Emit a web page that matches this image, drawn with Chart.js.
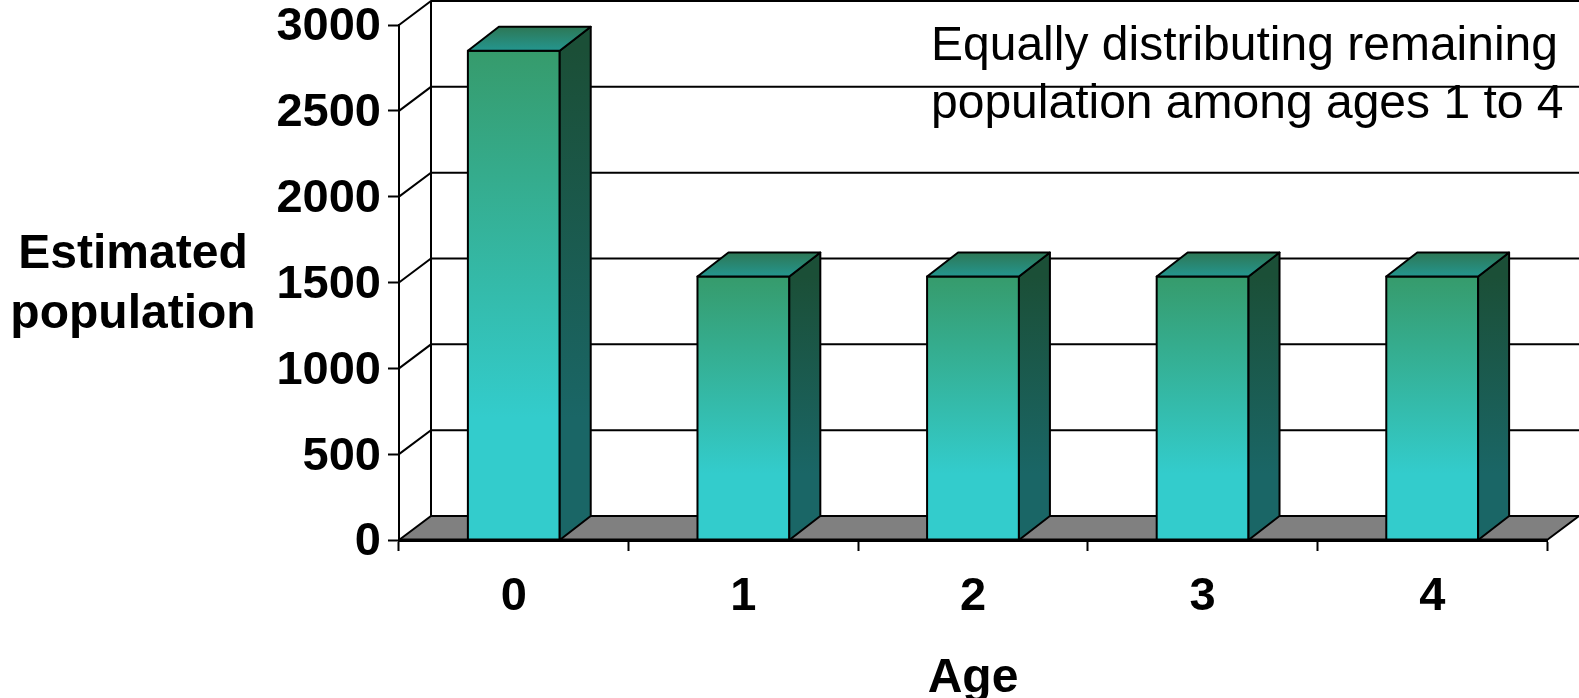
<!DOCTYPE html>
<html>
<head>
<meta charset="utf-8">
<title>Estimated population by age</title>
<script src="https://cdn.jsdelivr.net/npm/chart.js@4"></script>
<style>
  html, body { margin: 0; padding: 0; background: #fff; overflow: hidden; }
  canvas { display: block; }
</style>
</head>
<body>
<canvas id="chart" width="1579" height="698"></canvas>
<script>
const ages = ["0", "1", "2", "3", "4"];
const population = [2850, 1535, 1535, 1535, 1535];
const yTicks = [0, 500, 1000, 1500, 2000, 2500, 3000];
const yTitleLines = ["Estimated", "population"];
const noteLines = ["Equally distributing remaining", "population among ages 1 to 4"];

const fontName = '"Liberation Sans", Arial, sans-serif';
const depthX = 32;
const depthY = 24;

// vertical gradient for one bar, from its top down to the floor
function barGradient(ctx, value, y, stops) {
  const top = y.getPixelForValue(value);
  const g = ctx.createLinearGradient(0, top, 0, y.getPixelForValue(0));
  g.addColorStop(0, stops[0]);
  g.addColorStop(0.75, stops[1]);
  g.addColorStop(1, stops[1]);
  return g;
}

const wallPlugin = {
  id: "wall",
  beforeDraw(chart) {
    // the y labels sit a little low in the original
    chart.scales.y.getLabelItems(chart.chartArea).forEach((item) => {
      item.options.translation[1] += 2.5;
    });
  },
  beforeDatasetsDraw(chart) {
    const { ctx, chartArea: a, scales: { y } } = chart;
    ctx.save();
    ctx.strokeStyle = "#000";
    ctx.lineWidth = 2;
    // floor
    ctx.fillStyle = "#808080";
    ctx.beginPath();
    ctx.moveTo(a.left, a.bottom);
    ctx.lineTo(a.left + depthX, a.bottom - depthY);
    ctx.lineTo(a.right + depthX, a.bottom - depthY);
    ctx.lineTo(a.right, a.bottom);
    ctx.closePath();
    ctx.fill();
    // gridlines on the back wall and the diagonals joining them to the axis
    yTicks.forEach((t) => {
      const py = y.getPixelForValue(t);
      ctx.beginPath();
      ctx.moveTo(a.left, py);
      ctx.lineTo(a.left + depthX, py - depthY);
      ctx.lineTo(a.right + depthX, py - depthY);
      ctx.stroke();
    });
    ctx.beginPath();
    ctx.moveTo(a.left + depthX, y.getPixelForValue(3000) - depthY);
    ctx.lineTo(a.left + depthX, y.getPixelForValue(0) - depthY);
    ctx.moveTo(a.right, a.bottom);
    ctx.lineTo(a.right + depthX, a.bottom - depthY);
    ctx.stroke();
    ctx.restore();
  },
  afterDatasetsDraw(chart) {
    const { ctx, chartArea: a, scales: { y } } = chart;
    const base = y.getPixelForValue(0);
    const dx = depthX - 1;
    ctx.save();
    ctx.strokeStyle = "#000";
    ctx.lineWidth = 2;
    ctx.lineJoin = "round";
    chart.getDatasetMeta(0).data.forEach((bar, i) => {
      const { x, y: top, width } = bar.getProps(["x", "y", "width"]);
      const r = x + width / 2;
      const l = x - width / 2;
      // front outline
      ctx.strokeRect(l, top, width, base - top);
      // side face
      ctx.fillStyle = barGradient(ctx, population[i], y, ["#1b4f37", "#1a6666"]);
      ctx.beginPath();
      ctx.moveTo(r, top);
      ctx.lineTo(r + dx, top - depthY);
      ctx.lineTo(r + dx, base - depthY);
      ctx.lineTo(r, base);
      ctx.closePath();
      ctx.fill();
      ctx.stroke();
      // top face
      const g = ctx.createLinearGradient(0, top - depthY, 0, top);
      g.addColorStop(0, "#2d7755");
      g.addColorStop(1, "#24968f");
      ctx.fillStyle = g;
      ctx.beginPath();
      ctx.moveTo(l, top);
      ctx.lineTo(l + dx, top - depthY);
      ctx.lineTo(r + dx, top - depthY);
      ctx.lineTo(r, top);
      ctx.closePath();
      ctx.fill();
      ctx.stroke();
    });
    // front edge of the floor, over the grey
    ctx.lineWidth = 3;
    ctx.beginPath();
    ctx.moveTo(a.left, a.bottom);
    ctx.lineTo(a.right, a.bottom);
    ctx.stroke();
    ctx.restore();
  },
  afterDraw(chart) {
    const { ctx } = chart;
    ctx.save();
    ctx.fillStyle = "#000";
    ctx.textBaseline = "alphabetic";
    ctx.font = "bold 48px " + fontName;
    ctx.textAlign = "center";
    yTitleLines.forEach((line, i) => ctx.fillText(line, 133, 268 + i * 60));
    ctx.font = "48px " + fontName;
    ctx.textAlign = "left";
    noteLines.forEach((line, i) => ctx.fillText(line, 931, 60 + i * 58));
    ctx.restore();
  },
};

new Chart(document.getElementById("chart"), {
  type: "bar",
  plugins: [wallPlugin],
  data: {
    labels: ages,
    datasets: [
      {
        label: "Estimated population",
        data: population,
        barPercentage: 0.4,
        categoryPercentage: 1,
        borderWidth: 0,
        backgroundColor: (c) => {
          const { ctx, scales, chartArea } = c.chart;
          if (!chartArea || c.raw === undefined) return "#33cccc";
          return barGradient(ctx, c.raw, scales.y, ["#369b6c", "#33cccc"]);
        },
      },
    ],
  },
  options: {
    responsive: false,
    animation: false,
    events: [],
    layout: { padding: { top: 25, right: 32, left: 0, bottom: 0 } },
    plugins: { legend: { display: false }, tooltip: { enabled: false } },
    scales: {
      x: {
        afterFit: (axis) => { axis.height = 158; axis.paddingRight = 0; axis.paddingLeft = 0; },
        grid: { drawOnChartArea: false, offset: true, tickLength: 11, tickColor: "#000", tickWidth: 2 },
        border: { color: "#000", width: 3 },
        ticks: { color: "#000", padding: 18, maxRotation: 0, font: { family: fontName, size: 47, weight: "bold" } },
        title: { display: true, text: "Age", color: "#000", padding: { top: 24, bottom: -5 }, font: { family: fontName, size: 48, weight: "bold", lineHeight: 1 } },
      },
      y: {
        min: 0,
        max: 3000,
        afterFit: (axis) => { axis.width = 399; axis.paddingTop = 0; axis.paddingBottom = 0; },
        afterBuildTicks: (axis) => { axis.ticks = yTicks.map((value) => ({ value })); },
        grid: { drawOnChartArea: false, tickLength: 11, tickColor: "#000", tickWidth: 2 },
        border: { color: "#000", width: 2 },
        ticks: { color: "#000", padding: 7, callback: (value) => String(value), font: { family: fontName, size: 47, weight: "bold" } },
      },
    },
  },
});
</script>
</body>
</html>
